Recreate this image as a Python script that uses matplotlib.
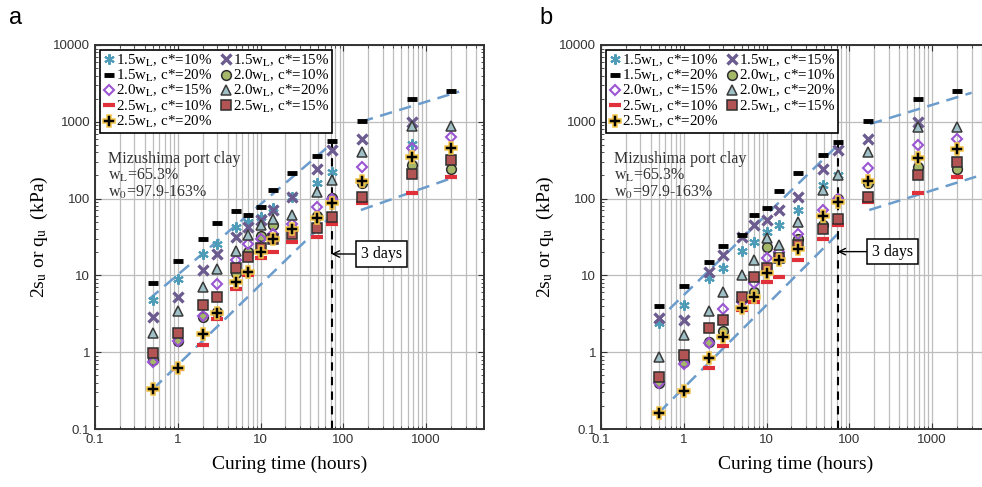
import numpy as np
import matplotlib
matplotlib.use("Agg")
import matplotlib.pyplot as plt
from matplotlib.ticker import LogLocator, FuncFormatter, NullFormatter

plt.rcParams['font.family'] = 'serif'
plt.rcParams['font.serif'] = ['Liberation Serif', 'DejaVu Serif']
plt.rcParams['mathtext.fontset'] = 'stix'

nan = np.nan
hours = [0.5, 1, 2, 3, 5, 7, 10, 14, 24, 48, 72, 168, 672, 2016]

labels = [
    "1.5w$_\\mathrm{L}$, c*=10%", "1.5w$_\\mathrm{L}$, c*=15%",
    "1.5w$_\\mathrm{L}$, c*=20%", "2.0w$_\\mathrm{L}$, c*=10%",
    "2.0w$_\\mathrm{L}$, c*=15%", "2.0w$_\\mathrm{L}$, c*=20%",
    "2.5w$_\\mathrm{L}$, c*=10%", "2.5w$_\\mathrm{L}$, c*=15%",
    "2.5w$_\\mathrm{L}$, c*=20%",
]

# panel a (kPa)
a_w15_c10 = [4.8, 8.9, 19, 26, 43, 50, 57, 75, 105, 160, 224, nan, 520, nan]
a_w15_c15 = [2.9, 5.2, 11.7, 19, 32, 43, 52, 71, 106, 240, 430, 590, 1000, nan]
a_w15_c20 = [8.0, 15.5, 30, 48.5, 69, 61, 78, 129, 218, 359, 560, 1030, 1980, 2540]
a_w20_c10 = [0.78, 1.41, 2.9, 3.3, 10.6, 20, 33, 45, 40, 59, 101, 160, 274, 246]
a_w20_c15 = [0.75, 1.4, 3.0, 7.7, 16, 25.4, 30, 35, 47, 78, 100, 256, 450, 630]
a_w20_c20 = [1.78, 3.4, 7.1, 12, 21, 33.6, 45, 55, 61, 123, 175, 408, 880, 880]
a_w25_c10 = [0.33, 0.6, 1.24, 2.7, 6.6, 10, 17, 20, 27, 32, 47, 87, 119, 193]
a_w25_c15 = [0.98, 1.8, 4.1, 5.3, 12.4, 17.5, 23, 30, 35, 41, 58, 106, 210, 318]
a_w25_c20 = [0.33, 0.63, 1.73, 3.2, 8.3, 11.2, 20, 30, 40, 56, 88, 171, 350, 452]

# panel b (kPa)
b_w15_c10 = [2.4, 4.1, 9.2, 12.3, 21, 27.5, 37, 45, 70, 150, 200, nan, nan, nan]
b_w15_c15 = [2.76, 2.6, 11.2, 18.4, 31.6, 45, 52, 71, 106, 240, 430, 590, 1000, nan]
b_w15_c20 = [4.0, 7.3, 15, 24, 33.6, 61, 75, 126, 217, 370, 550, 1030, 2000, 2500]
b_w20_c10 = [0.4, 0.75, 1.37, 1.9, 5, 6, 23.7, 17, 30, 46, 100, 160, 260, 240]
b_w20_c15 = [0.4, 0.7, 1.3, 3.7, 4.5, 8, 17, 20, 35, 70, 100, 250, 500, 600]
b_w20_c20 = [0.87, 1.67, 3.4, 6.1, 10, 16, 31, 25, 50, 130, 200, 400, 850, 850]
b_w25_c10 = [0.16, 0.3, 0.62, 1.2, 3.5, 4.5, 8.3, 9.5, 16, 30, 45, 90, 120, 190]
b_w25_c15 = [0.47, 0.92, 2.04, 2.6, 5.3, 9.5, 12.3, 17, 25, 40, 55, 105, 200, 300]
b_w25_c20 = [0.163, 0.316, 0.83, 1.59, 3.8, 5.2, 10.6, 16, 22, 60, 90, 170, 340, 440]

# dashed envelope lines (hours, kPa)
a_up1_t, a_up1_v = [0.45, 74], [4.9, 530]
a_lo1_t, a_lo1_v = [0.5, 72], [0.33, 60]
a_up2_t, a_up2_v = [163, 2500], [1000, 2470]
a_lo2_t, a_lo2_v = [163, 2280], [71, 193]
b_up1_t, b_up1_v = [0.45, 80], [2.4, 550]
b_lo1_t, b_lo1_v = [0.5, 75], [0.163, 36]
b_up2_t, b_up2_v = [177, 3000], [935, 2390]
b_lo2_t, b_lo2_v = [174, 3400], [71, 193]

three_days = 72

styles = [
    dict(marker=(6, 2, 0), color='#4f9cb8', ms=7.5, mew=1.5),
    dict(marker='x', color='#6b5b8e', ms=6.5, mew=2.4),
    dict(marker='_', color='black', ms=6.5, mew=3.5),
    dict(marker='o', mfc='#a5b86a', mec='#2e2e2e', ms=7, mew=1.1),
    dict(marker='D', mfc='none', mec='#9a55d2', ms=5.5, mew=1.5),
    dict(marker='^', mfc='#9fc0c6', mec='#3a3a3a', ms=7.5, mew=1.1),
    dict(marker='_', color='#e0303a', ms=8, mew=3),
    dict(marker='s', mfc='#b25454', mec='#2e2e2e', ms=7, mew=1.1),
    dict(marker='P', mfc='black', mec='#f3c64a', ms=8.5, mew=1.1),
]


def draw_panel(ax, series, lines, box_pos):
    ax.set_xscale('log')
    ax.set_yscale('log')
    ax.set_xlim(0.1, 5000)
    ax.set_ylim(0.1, 10000)
    ax.set_axisbelow(True)
    ax.grid(True, axis='x', which='both', color='#bdbdbd', lw=0.9)
    ax.grid(True, axis='y', which='major', color='#bdbdbd', lw=0.9)

    for t, v in lines:
        ax.plot(t, v, ls=(0, (5, 3)), color='#6b9ccc', lw=1.8, zorder=2)
    ax.plot([three_days, three_days], [0.1, 600], ls=(0, (4, 3)),
            color='black', lw=1.5, zorder=2)

    handles = []
    for vals, st in zip(series, styles):
        h, = ax.plot(hours, vals, ls='none', zorder=3, **st)
        handles.append(h)

    order = [0, 2, 4, 6, 8, 1, 3, 5, 7]
    leg = ax.legend([handles[i] for i in order], [labels[i] for i in order],
                    ncol=2, loc='upper left', bbox_to_anchor=(0.0, 1.0),
                    frameon=True, fancybox=False, edgecolor='black',
                    framealpha=1, fontsize=10.8, handlelength=0.8,
                    handletextpad=0.1, columnspacing=0.5, labelspacing=-0.05,
                    borderpad=0.2, borderaxespad=0.3)
    leg.get_frame().set_linewidth(1.2)

    ax.text(0.033, 0.725,
            "Mizushima port clay\nw$_\\mathrm{L}$=65.3%\nw$_0$=97.9-163%",
            transform=ax.transAxes, ha='left', va='top', fontsize=11.5,
            linespacing=1.0, color='#333333')

    ax.annotate("3 days", xy=(three_days, box_pos[1]), xytext=box_pos,
                ha='center', va='center', fontsize=11.5,
                bbox=dict(boxstyle='square,pad=0.3', fc='white', ec='black', lw=1.1),
                arrowprops=dict(arrowstyle='->', color='black', lw=1.0,
                                shrinkA=0, shrinkB=0))

    ax.xaxis.set_major_locator(LogLocator(base=10, numticks=10))
    ax.xaxis.set_minor_locator(LogLocator(base=10, subs=np.arange(2, 10), numticks=20))
    ax.yaxis.set_major_locator(LogLocator(base=10, numticks=10))
    ax.yaxis.set_minor_locator(LogLocator(base=10, subs=np.arange(2, 10), numticks=20))
    fmt = FuncFormatter(lambda v, p: f"{v:g}")
    ax.xaxis.set_major_formatter(fmt)
    ax.yaxis.set_major_formatter(fmt)
    ax.xaxis.set_minor_formatter(NullFormatter())
    ax.yaxis.set_minor_formatter(NullFormatter())
    ax.tick_params(which='both', direction='in', top=True, right=True,
                   labelsize=9.5, colors='#333333', labelcolor='#333333')
    ax.tick_params(which='major', length=4)
    ax.tick_params(which='minor', length=2.5)
    for lab in ax.get_xticklabels() + ax.get_yticklabels():
        lab.set_family('Liberation Sans')
    for sp in ax.spines.values():
        sp.set_linewidth(1.4)
        sp.set_color('#333333')

    ax.set_xlabel("Curing time (hours)", fontsize=14, labelpad=7)
    ax.set_ylabel("2s$_\\mathrm{u}$ or q$_\\mathrm{u}$  (kPa)", fontsize=14, labelpad=2)


fig = plt.figure(figsize=(9.82, 4.87), dpi=100)
ax_a = fig.add_axes([95 / 982, 58 / 487, 389 / 982, 384 / 487])
ax_b = fig.add_axes([601 / 982, 58 / 487, 389 / 982, 384 / 487])

draw_panel(ax_a,
           [a_w15_c10, a_w15_c15, a_w15_c20, a_w20_c10, a_w20_c15,
            a_w20_c20, a_w25_c10, a_w25_c15, a_w25_c20],
           [(a_up1_t, a_up1_v), (a_lo1_t, a_lo1_v),
            (a_up2_t, a_up2_v), (a_lo2_t, a_lo2_v)],
           (287, 19))
draw_panel(ax_b,
           [b_w15_c10, b_w15_c15, b_w15_c20, b_w20_c10, b_w20_c15,
            b_w20_c20, b_w25_c10, b_w25_c15, b_w25_c20],
           [(b_up1_t, b_up1_v), (b_lo1_t, b_lo1_v),
            (b_up2_t, b_up2_v), (b_lo2_t, b_lo2_v)],
           (330, 20.4))

fig.text(16 / 982, 1 - 18 / 487, "a", fontsize=17, family='Liberation Sans',
         ha='center', va='center')
fig.text(546 / 982, 1 - 18 / 487, "b", fontsize=17, family='Liberation Sans',
         ha='center', va='center')

fig.savefig("out.png", dpi=100)
